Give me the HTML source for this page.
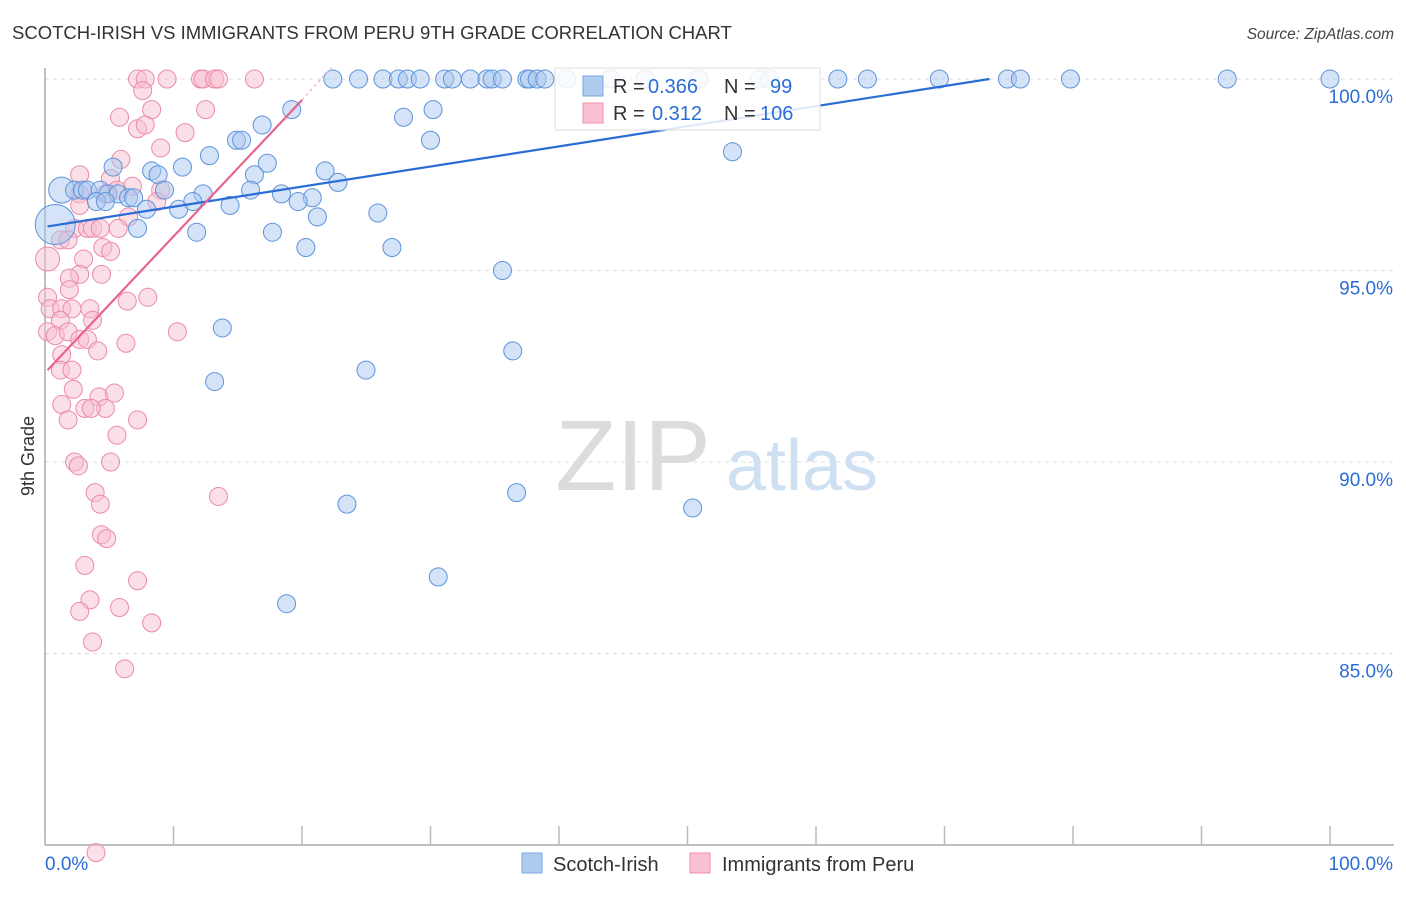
<!DOCTYPE html>
<html><head><meta charset="utf-8"><style>
body{margin:0;background:#fff;font-family:"Liberation Sans",sans-serif;}
svg text{font-family:"Liberation Sans",sans-serif;}
</style></head><body>
<svg id="chart" width="1406" height="892" viewBox="0 0 1406 892" xmlns="http://www.w3.org/2000/svg">
<text x="12" y="39" font-size="18.5" fill="#333">SCOTCH-IRISH VS IMMIGRANTS FROM PERU 9TH GRADE CORRELATION CHART</text>
<text x="1394" y="39" font-size="15.5" fill="#444" text-anchor="end" font-style="italic">Source: ZipAtlas.com</text>
<g>
<text x="633" y="490" font-size="100" fill="#dcdcdc" text-anchor="middle" font-family="Liberation Serif,serif">ZIP</text>
<text x="802" y="490" font-size="72" fill="#cfe0f3" text-anchor="middle">atlas</text>
</g>
<g id="grid"></g>
<g id="axes"></g>
<g id="pinkPts"></g>
<g id="bluePts"></g>
<g id="lines"></g>
<text transform="translate(34,456) rotate(-90)" font-size="18" fill="#333" text-anchor="middle">9th Grade</text>
<g>
<rect x="555" y="68" width="265" height="62" fill="#fff" fill-opacity="0.85" stroke="#ddd"/>
<rect x="583" y="76" width="20" height="20" fill="#aecbf0" stroke="#7aa6e0"/>
<text x="613" y="93" font-size="20" fill="#333">R = </text><text x="648" y="93" font-size="20" fill="#2a6dd6">0.366</text>
<text x="724" y="93" font-size="20" fill="#333">N = </text><text x="770" y="93" font-size="20" fill="#2a6dd6">99</text>
<rect x="583" y="103" width="20" height="20" fill="#f8c0d0" stroke="#ee8fab"/>
<text x="613" y="120" font-size="20" fill="#333">R = </text><text x="652" y="120" font-size="20" fill="#2a6dd6">0.312</text>
<text x="724" y="120" font-size="20" fill="#333">N = </text><text x="760" y="120" font-size="20" fill="#2a6dd6">106</text>
</g>
<g>
<rect x="522" y="853" width="20" height="20" fill="#aecbf0" stroke="#7aa6e0"/>
<text x="553" y="871" font-size="20" fill="#333">Scotch-Irish</text>
<rect x="690" y="853" width="20" height="20" fill="#f8c0d0" stroke="#ee8fab"/>
<text x="722" y="871" font-size="20" fill="#333">Immigrants from Peru</text>
</g>
</svg>
<script>
const yTicks=[100,95,90,85];
const xTickLabels=["0.0%","100.0%"];
const blueX=[22.4,24.4,26.3,27.5,28.2,29.2,31.1,31.7,33.1,34.4,34.8,35.6,37.5,37.7,38.3,38.9,40.6,44,46.7,50.9,55.6,56.4,61.7,64,69.6,74.9,75.9,79.8,92,100,
19.2,27.9,30.2,16.9,14.9,15.3,30,12.8,53.5,5.3,8.3,10.7,17.3,8.8,16.3,21.8,22.8,1.3,2.3,2.9,3.3,4.3,4.9,5.7,6.5,6.9,9.3,12.3,16,18.4,20.8,4,4.7,7.9,10.4,11.5,14.4,19.7,21.2,25.9,0.8,7.2,11.8,17.7,20.3,27,35.6,13.8,36.4,24.98,13.2,23.5,36.7,50.4,30.6,18.8];
const blueY=[100,100,100,100,100,100,100,100,100,100,100,100,100,100,100,100,100,100,100,100,100,100,100,100,100,100,100,100,100,100,
99.2,99,99.2,98.8,98.4,98.4,98.4,98,98.1,97.7,97.6,97.7,97.8,97.5,97.5,97.6,97.3,97.1,97.1,97.1,97.1,97.1,97,97,96.9,96.9,97.1,97,97.1,97,96.9,96.8,96.8,96.6,96.6,96.8,96.7,96.8,96.4,96.5,96.2,96.1,96,96,95.6,95.6,95,93.5,92.9,92.4,92.1,88.9,89.2,88.8,87,86.3];
const pinkX=[7.2,7.8,9.5,12.1,12.3,13.2,13.5,16.3,7.6,8.3,5.8,7.2,7.8,12.5,10.9,9,5.9,2.7,5.1,6.8,5.6,4.7,2.7,9,2.7,8.7,6.5,2.3,3.3,3.7,5.7,4.3,1.2,1.8,0.2,4.5,5.1,3,2.7,4.4,1.9,1.9,0.2,0.4,1.3,2.1,3.5,6.4,8,1.2,3.7,0.2,0.8,1.8,2.7,3.3,10.3,6.3,4.1,1.3,1.2,2.1,2.2,4.2,5.4,1.3,3.1,4.7,3.6,7.2,1.8,5.6,2.3,2.6,5.1,13.5,3.9,4.3,4.4,4.8,3.1,7.2,3.5,2.7,5.8,8.3,3.7,6.2,3.97];
const pinkY=[100,100,100,100,100,100,100,100,99.7,99.2,99,98.7,98.8,99.2,98.6,98.2,97.9,97.5,97.4,97.2,97.1,97,97,97.1,96.7,96.8,96.4,96.1,96.1,96.1,96.1,96.1,95.8,95.8,95.3,95.6,95.5,95.3,94.9,94.9,94.8,94.5,94.3,94,94,94,94,94.2,94.3,93.7,93.7,93.4,93.3,93.4,93.2,93.2,93.4,93.1,92.9,92.8,92.4,92.4,91.9,91.7,91.8,91.5,91.4,91.4,91.4,91.1,91.1,90.7,90,89.9,90,89.1,89.2,88.9,88.1,88,87.3,86.9,86.4,86.1,86.2,85.8,85.3,84.6,79.8];
const W0=45,W1=1330,Y100=79,Y80=845;
const sx=v=>W0+(v/100)*(W1-W0);
const sy=v=>Y100+(100-v)*(Y80-Y100)/20;
const NS="http://www.w3.org/2000/svg";
function mk(t,a,p){const e=document.createElementNS(NS,t);for(const k in a)e.setAttribute(k,a[k]);p.appendChild(e);return e;}
const grid=document.getElementById('grid'),axes=document.getElementById('axes');
yTicks.forEach(v=>{
 const l=mk('line',{x1:W0,x2:1394,y1:sy(v),y2:sy(v),stroke:'#ddd','stroke-dasharray':'4,4'},grid);
 
 
 const t=mk('text',{x:1393,y:sy(v)+24,'font-size':19,fill:'#2a6dd6','text-anchor':'end'},grid);
 t.textContent=v.toFixed(1)+'%';
 
 
});
mk('line',{x1:W0,x2:W0,y1:68,y2:Y80,stroke:'#aaa','stroke-width':1.5},axes);
mk('line',{x1:W0,x2:1394,y1:Y80,y2:Y80,stroke:'#aaa','stroke-width':1.5},axes);
for(let i=0;i<=10;i++){const l=mk('line',{x1:sx(i*10),x2:sx(i*10),y1:Y80,y2:826,stroke:'#bbb','stroke-width':1.5},axes);
 
 }
const xl0=mk('text',{x:45,y:870,'font-size':19,fill:'#2a6dd6'},axes);xl0.textContent=xTickLabels[0];


const xl1=mk('text',{x:1393,y:870,'font-size':19,fill:'#2a6dd6','text-anchor':'end'},axes);xl1.textContent=xTickLabels[1];


const pg=document.getElementById('pinkPts');
pinkX.forEach((x,i)=>{const r=(i===34)?12:9;const c=mk('circle',{cx:sx(x),cy:sy(pinkY[i]),r:r,fill:'#f8bfd0','fill-opacity':0.5,stroke:'#ec8aa8','stroke-width':1},pg);
 
 });
const bg=document.getElementById('bluePts');
blueX.forEach((x,i)=>{const r=(i===70)?20:(i===47?13:9);const c=mk('circle',{cx:sx(x),cy:sy(blueY[i]),r:r,fill:'#a9c8ef','fill-opacity':0.5,stroke:'#5d93dc','stroke-width':1},bg);
 
 });
const lg=document.getElementById('lines');
const bl=mk('line',{x1:sx(0.2),y1:sy(96.15),x2:sx(73.5),y2:sy(100),stroke:'#2a6dd6','stroke-width':2.2},lg);


const pl=mk('line',{x1:sx(0.2),y1:sy(92.4),x2:sx(20),y2:sy(99.45),stroke:'#e8648e','stroke-width':2.2},lg);


const pd=mk('line',{x1:sx(20),y1:sy(99.45),x2:sx(22.3),y2:sy(100.3),stroke:'#f0a8c0','stroke-width':1.2,'stroke-dasharray':'3,3'},lg);


</script>
</body></html>
